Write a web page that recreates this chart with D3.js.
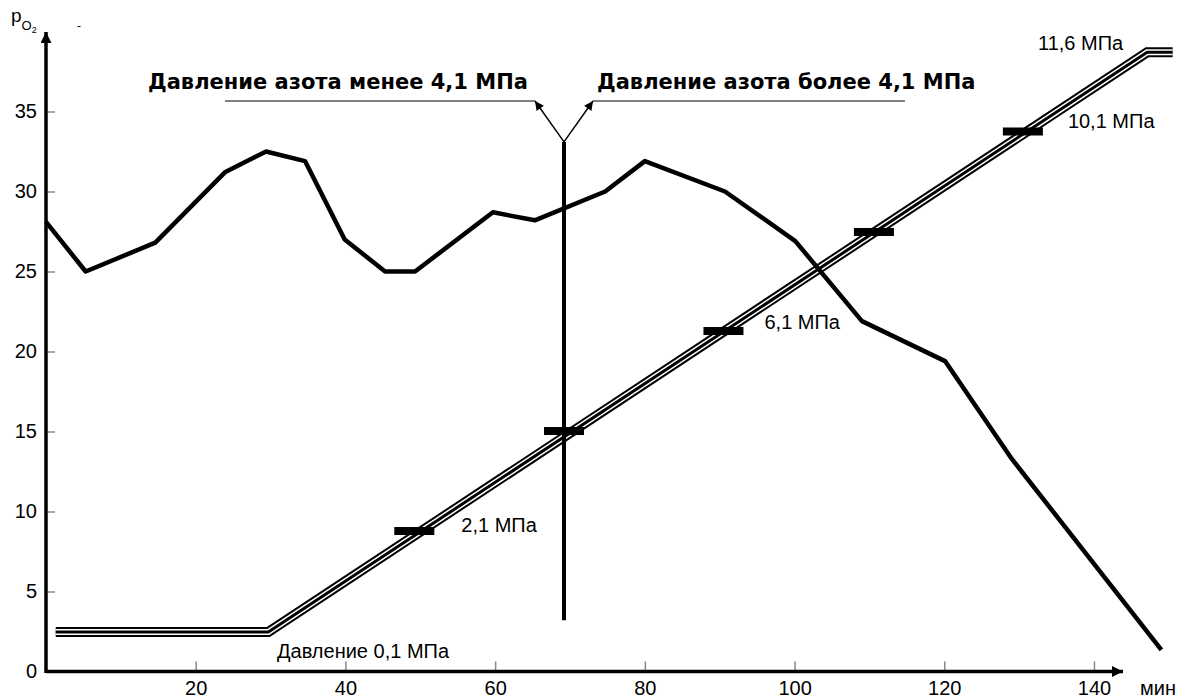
<!DOCTYPE html>
<html><head><meta charset="utf-8">
<script src="https://cdn.jsdelivr.net/npm/d3@7"></script>
<style>
html,body{margin:0;padding:0;background:#fff;}
svg{display:block;}
text{font-family:"Liberation Sans",Arial,sans-serif;fill:#000;}
</style></head>
<body>
<svg id="c" width="1186" height="698"></svg>
<script>
// ---- data ----
const curveMinutes = [0, 5.3, 14.6, 23.9, 29.4, 34.6, 39.9, 45.3, 49.3, 59.7, 65.3, 74.7, 80.0, 90.7, 100.1, 109.0, 120.1, 129.0, 149.0];
const curvePO2     = [28.1, 25.0, 26.8, 31.2, 32.5, 31.9, 27.0, 25.0, 25.0, 28.7, 28.2, 30.0, 31.9, 30.0, 26.9, 21.9, 19.4, 13.3, 1.35];
const pressMinutes = [1.3, 29.7, 147.1, 150.5];
const pressLevel   = [2.47, 2.47, 38.7, 38.7];
const markerMinutes = [49.2, 69.2, 90.5, 110.6, 130.5];
const markerLevel   = [8.78, 15.03, 21.28, 27.47, 33.75];
const markerLabels  = ["2,1 МПа", "", "6,1 МПа", "", "10,1 МПа"];
const dividerMinute = 69.2;
const dividerRange  = [3.2, 33.1];
const xTicks = [20, 40, 60, 80, 100, 120, 140];
const yTicks = [0, 5, 10, 15, 20, 25, 30, 35];

// ---- scales ----
const svg = d3.select("#c");
const x = d3.scaleLinear().domain([0, 140]).range([46, 1094]);
const y = d3.scaleLinear().domain([0, 35]).range([671.5, 111.5]);

const defs = svg.append("defs");
defs.append("marker").attr("id","arrBig").attr("viewBox","0 0 10 10").attr("refX",10).attr("refY",5)
  .attr("markerWidth",12).attr("markerHeight",11).attr("markerUnits","userSpaceOnUse").attr("orient","auto")
  .append("path").attr("d","M0,0 L10,5 L0,10 Z").attr("fill","#000");
defs.append("marker").attr("id","arrSmall").attr("viewBox","0 0 10 10").attr("refX",10).attr("refY",5)
  .attr("markerWidth",11).attr("markerHeight",9).attr("markerUnits","userSpaceOnUse").attr("orient","auto")
  .append("path").attr("d","M0,0 L10,5 L0,10 Z").attr("fill","#000");

// ---- axes ----
const xAxis = d3.axisBottom(x).tickValues(xTicks).tickSizeInner(-10).tickSizeOuter(0).tickPadding(9);
const gx = svg.append("g").attr("transform", `translate(0,${y(0)})`).call(xAxis);
gx.select(".domain").remove();
gx.selectAll(".tick line").attr("stroke","#888").attr("stroke-width",1.5);
gx.selectAll(".tick text").attr("font-size",20).attr("font-family","Liberation Sans, Arial, sans-serif").attr("fill","#000");

const yAxis = d3.axisLeft(y).tickValues(yTicks).tickSizeInner(-9).tickSizeOuter(0).tickPadding(9);
const gy = svg.append("g").attr("transform", `translate(${x(0)},0)`).call(yAxis);
gy.select(".domain").remove();
gy.selectAll(".tick line").attr("stroke","#888").attr("stroke-width",1.5);
gy.selectAll(".tick text").attr("font-size",20).attr("font-family","Liberation Sans, Arial, sans-serif").attr("fill","#000");
gy.selectAll(".tick").filter(d => d === 0).select("line").remove();

svg.append("line").attr("x1", x(0)).attr("x2", 1123).attr("y1", y(0)).attr("y2", y(0))
  .attr("stroke","#000").attr("stroke-width",3.5).attr("marker-end","url(#arrBig)");
svg.append("line").attr("x1", x(0)).attr("x2", x(0)).attr("y1", y(0)+1.5).attr("y2", 32)
  .attr("stroke","#000").attr("stroke-width",3.5).attr("marker-end","url(#arrBig)");

svg.append("text").attr("x",1140).attr("y",695).attr("font-size",20).text("мин");
const lab = svg.append("text").attr("x",11).attr("y",22).style("font-size","19px");
lab.append("tspan").text("p");
lab.append("tspan").style("font-size","13px").attr("dy",8).text("O");
lab.append("tspan").style("font-size","9px").attr("dy",3).text("2");
svg.append("text").attr("x",77).attr("y",30).attr("font-size",12).text("-");

// ---- pressure (triple) line ----
const pressData = pressMinutes.map((m,i)=>[m, pressLevel[i]]);
const line = d3.line().x(d=>x(d[0])).y(d=>y(d[1]));
[[10,"#000"],[6,"#fff"],[3,"#000"]].forEach(([w,c])=>{
  svg.append("path").attr("d", line(pressData)).attr("fill","none").attr("stroke",c)
    .attr("stroke-width",w).attr("stroke-linejoin","miter");
});

// ---- O2 curve ----
const curveData = curveMinutes.map((m,i)=>[m, curvePO2[i]]);
svg.append("path").attr("d", line(curveData)).attr("fill","none").attr("stroke","#000")
  .attr("stroke-width",4.5).attr("stroke-linejoin","round");

// ---- divider ----
svg.append("line").attr("x1",x(dividerMinute)).attr("x2",x(dividerMinute))
  .attr("y1",y(dividerRange[0])).attr("y2",y(dividerRange[1])).attr("stroke","#000").attr("stroke-width",4);

// ---- markers ----
markerMinutes.forEach((m,i)=>{
  svg.append("rect").attr("x", x(m)-20).attr("y", y(markerLevel[i])-4).attr("width",40).attr("height",8).attr("fill","#000");
});
const labelOffsets = [[47,-6],[0,0],[41,-9],[0,0],[45,-11]];
markerLabels.forEach((t,i)=>{
  if(!t) return;
  svg.append("text").attr("x", x(markerMinutes[i])+labelOffsets[i][0]).attr("y", y(markerLevel[i])+labelOffsets[i][1])
    .attr("dy","0.35em").attr("font-size",20).text(t);
});
svg.append("text").attr("x",1038).attr("y",43).attr("dy","0.35em").attr("font-size",20).text("11,6 МПа");
svg.append("text").attr("x",277).attr("y",651).attr("dy","0.35em").attr("font-size",20).text("Давление 0,1 МПа");

// ---- top annotation ----
const topX = x(dividerMinute), topY = y(dividerRange[1]);
svg.append("line").attr("x1",225).attr("x2",535).attr("y1",101).attr("y2",101).attr("stroke","#808080").attr("stroke-width",2);
svg.append("line").attr("x1",593).attr("x2",905).attr("y1",101).attr("y2",101).attr("stroke","#808080").attr("stroke-width",2);
svg.append("line").attr("x1",topX).attr("y1",topY).attr("x2",535).attr("y2",101).attr("stroke","#000").attr("stroke-width",1.5).attr("marker-end","url(#arrSmall)");
svg.append("line").attr("x1",topX).attr("y1",topY).attr("x2",593).attr("y2",101).attr("stroke","#000").attr("stroke-width",1.5).attr("marker-end","url(#arrSmall)");
svg.append("text").attr("x",148).attr("y",82).attr("dy","0.35em").attr("font-size",21).attr("font-weight","bold")
  .style("font-family","'DejaVu Sans',sans-serif").text("Давление азота менее 4,1 МПа");
svg.append("text").attr("x",597).attr("y",82).attr("dy","0.35em").attr("font-size",21).attr("font-weight","bold")
  .style("font-family","'DejaVu Sans',sans-serif").text("Давление азота более 4,1 МПа");
</script>
</body></html>
